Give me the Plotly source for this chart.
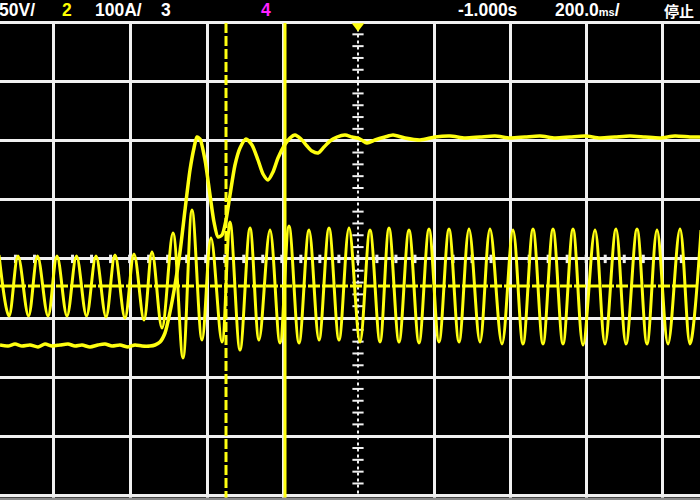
import plotly.graph_objects as go

# ---- data (screen units: x px, y px) ----
sine_x = [-1, 9, 18, 28.5, 37.5, 48, 57, 67, 76.5, 86.5, 96, 106, 115, 125, 134, 144,
          152, 162, 173, 183, 192, 202, 211, 222, 230, 240, 250, 259, 270, 280, 289, 299,
          309, 319, 329, 339, 349, 360, 370, 380, 389, 399, 409, 419, 429, 439, 449, 459,
          469, 480, 490, 502, 513, 523, 533, 543, 553, 563, 573, 583, 595, 605, 616, 626,
          637, 647, 657, 668, 680, 690, 701]
sine_y = [255, 316, 256, 316, 256, 316, 256, 316, 256, 316, 256, 317, 255, 318, 254, 320,
          252, 328, 233, 358, 210, 340, 238, 342, 222, 350, 228, 340, 230, 343, 226, 343,
          230, 340, 228, 340, 228, 342, 230, 342, 228, 342, 230, 343, 229, 342, 229, 342,
          229, 342, 229, 344, 230, 344, 229, 344, 229, 344, 229, 345, 230, 344, 229, 344,
          229, 344, 230, 344, 229, 344, 230]

step_x = [0, 8, 15, 22, 30, 38, 45, 52, 60, 68, 75, 82, 90, 98, 105, 112, 120, 128, 135,
          142, 150, 155, 160, 165, 170, 175, 180, 185, 190, 194, 197, 200, 205, 210, 214,
          218, 222, 226, 230, 235, 240, 246, 252, 258, 263, 268, 273, 278, 284, 290, 295,
          301, 307, 312, 318, 324, 330, 337, 345, 352, 360, 367, 375, 385, 393, 405, 420,
          435, 450, 465, 480, 495, 510, 525, 540, 555, 570, 585, 600, 615, 630, 645, 660,
          675, 690, 700]
step_y = [345, 346, 344, 346, 345, 347, 344, 346, 345, 344, 346, 345, 347, 345, 344, 346,
          345, 347, 345, 346, 346, 345, 342, 333, 312, 285, 252, 210, 170, 148, 137, 139,
          160, 195, 222, 237, 235, 220, 195, 165, 148, 139, 145, 160, 174, 180, 172, 158,
          146, 138, 135, 139, 146, 151, 153, 147, 141, 137, 135, 137, 139, 143, 140, 137,
          135, 138, 140, 137, 136, 138, 137, 136, 138, 137, 136, 138, 137, 136, 138, 137,
          136, 137, 138, 136, 137, 137]

header_labels = ["50V/", "2", "100A/", "3", "4", "-1.000s",
                 "200.0<span style='font-size:11px'>ms</span>/", "停止"]
header_x = [-3, 67, 93, 166, 266, 456, 553, 696]
header_colors = ["#ffffff", "#ffff00", "#ffffff", "#ffffff", "#ff22ff", "#ffffff", "#ffffff", "#ffffff"]
header_anchor = ["left", "center", "left", "center", "center", "left", "left", "right"]

v_grid = [53.5, 130, 207, 283.5, 434, 510, 586, 662]
h_grid = [22.5 + 59.1 * k for k in range(9)]
center_x = 358
center_y = h_grid[4]
cursor_dashed_x = 226
cursor_solid_x = 285
ground_level_y = 286

W, H = 700, 500
YEL = "#ffff10"
WHITE = "#f0f0f0"

fig = go.Figure()

# center-line tick marks
vt = [22.5 + 59.1 / 5 * k for k in range(1, 40)]
vt = [v for v in vt if v < 497]
fig.add_trace(go.Scatter(x=[center_x] * len(vt), y=vt, mode="markers",
                         marker=dict(symbol="line-ew", size=8, line=dict(color=WHITE, width=2)),
                         hoverinfo="skip", showlegend=False))
ht = [53.5 + 76.1 / 4 * k - 76.1 for k in range(0, 40)]
ht = [v for v in ht if 0 <= v <= 700]
fig.add_trace(go.Scatter(x=ht, y=[center_y] * len(ht), mode="markers",
                         marker=dict(symbol="line-ns", size=6, line=dict(color=WHITE, width=3)),
                         hoverinfo="skip", showlegend=False))

fig.add_trace(go.Scatter(x=sine_x, y=sine_y, mode="lines",
                         line=dict(color=YEL, width=3, shape="spline", smoothing=1.0),
                         hoverinfo="skip", showlegend=False))
fig.add_trace(go.Scatter(x=step_x, y=step_y, mode="lines",
                         line=dict(color=YEL, width=3.5, shape="spline", smoothing=0.7),
                         hoverinfo="skip", showlegend=False))

# trigger marker
fig.add_trace(go.Scatter(x=[center_x], y=[26], mode="markers",
                         marker=dict(symbol="triangle-down", size=11, color=YEL),
                         hoverinfo="skip", showlegend=False))

shapes = [
    dict(type="rect", xref="x", yref="y", x0=0, x1=700, y0=0, y1=21,
         fillcolor="#000000", line=dict(width=0), layer="between"),
    dict(type="line", xref="x", yref="y", x0=center_x, x1=center_x, y0=22.5, y1=497,
         line=dict(color=WHITE, width=2, dash="dot"), layer="between"),
    dict(type="line", xref="x", yref="y", x0=0, x1=700, y0=ground_level_y, y1=ground_level_y,
         line=dict(color=YEL, width=3, dash="12px,2px"), layer="between"),
    dict(type="line", xref="x", yref="y", x0=cursor_dashed_x, x1=cursor_dashed_x, y0=23, y1=500,
         line=dict(color=YEL, width=3, dash="10px,3px"), layer="above"),
    dict(type="line", xref="x", yref="y", x0=cursor_solid_x, x1=cursor_solid_x, y0=23, y1=500,
         line=dict(color=YEL, width=3), layer="above"),
    dict(type="rect", xref="x", yref="y", x0=0, x1=700, y0=497.5, y1=500,
         fillcolor="#8a8a8a", line=dict(width=0), layer="above"),
]

annotations = []
for t, x, c, a in zip(header_labels, header_x, header_colors, header_anchor):
    if t == "停止":
        fam, size = "Noto Sans CJK JP", 15
    else:
        fam, size = "Liberation Sans, Arial, sans-serif", 17.5
    annotations.append(dict(text=t, x=x / W, y=1 - 10 / H, xref="paper", yref="paper",
                            xanchor=a, yanchor="middle", showarrow=False,
                            font=dict(family=fam, size=size, color=c, weight="bold")))

fig.update_layout(
    width=W, height=H,
    margin=dict(l=0, r=0, t=0, b=0),
    paper_bgcolor="#000000", plot_bgcolor="#000000",
    xaxis=dict(range=[0, 700], tickmode="array", tickvals=v_grid, showgrid=True,
               gridcolor=WHITE, gridwidth=2.5, showticklabels=False, ticks="",
               zeroline=False, showline=False, fixedrange=True),
    yaxis=dict(range=[500, 0], tickmode="array", tickvals=h_grid, showgrid=True,
               gridcolor=WHITE, gridwidth=2.5, showticklabels=False, ticks="",
               zeroline=False, showline=False, fixedrange=True),
    shapes=shapes,
    annotations=annotations,
    showlegend=False,
)

fig.write_html("out.html", config={"displayModeBar": False},
               post_script="document.body.style.margin='0px';document.body.style.background='#000';")
